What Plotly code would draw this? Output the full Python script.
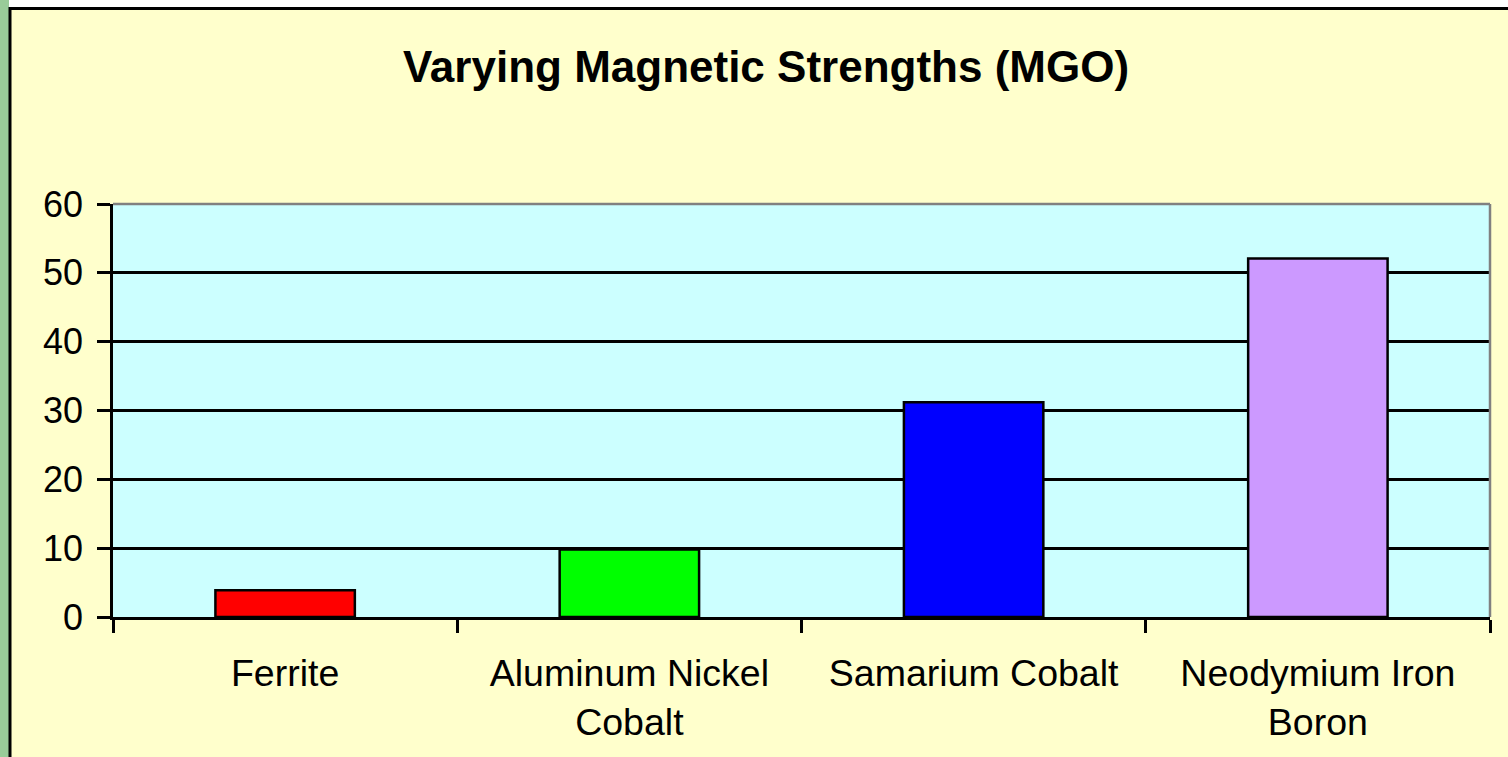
import plotly.graph_objects as go

# ---- data ----
categories = ["Ferrite", "Aluminum Nickel<br>Cobalt", "Samarium Cobalt", "Neodymium Iron<br>Boron"]
strengths = [3.9, 9.8, 31.2, 52.1]
bar_colors = ["#FF0000", "#00FF00", "#0000FF", "#CC99FF"]
y_ticks = [0, 10, 20, 30, 40, 50, 60]
title_text = "Varying Magnetic Strengths (MGO)"

W, H = 1508, 757
L, R, T, B = 113, 18, 204, 140
FONT = "Liberation Sans, Arial, sans-serif"

fig = go.Figure(
    go.Bar(
        x=categories,
        y=strengths,
        marker=dict(color=bar_colors, line=dict(color="black", width=2.5)),
        width=0.405,
    )
)

pw = W - L - R
ph = H - T - B
def px_x(p):
    return (p - L) / pw
def px_y(p):
    return (H - B - p) / ph

shapes = [
    # green strip at left edge
    dict(type="rect", xref="paper", yref="paper", x0=px_x(0), x1=px_x(9), y0=px_y(H), y1=px_y(0),
         fillcolor="#99CC99", line=dict(width=0), layer="below"),
    # white strip at top
    dict(type="rect", xref="paper", yref="paper", x0=px_x(9), x1=px_x(W), y0=px_y(7), y1=px_y(0),
         fillcolor="white", line=dict(width=0), layer="below"),
    # black outer border (top & left)
    dict(type="line", xref="paper", yref="paper", x0=px_x(9), x1=px_x(W), y0=px_y(8.5), y1=px_y(8.5),
         line=dict(color="black", width=3)),
    dict(type="line", xref="paper", yref="paper", x0=px_x(10), x1=px_x(10), y0=px_y(7), y1=px_y(H),
         line=dict(color="black", width=3)),
    # gray plot border top and right
    dict(type="line", xref="paper", yref="paper", x0=0, x1=1, y0=1, y1=1,
         line=dict(color="#808080", width=2.5)),
    dict(type="line", xref="paper", yref="paper", x0=1, x1=1, y0=0, y1=1,
         line=dict(color="#808080", width=2.5)),
]

fig.update_layout(
    width=W, height=H,
    margin=dict(l=L, r=R, t=T, b=B, pad=0),
    paper_bgcolor="#FFFFCC",
    plot_bgcolor="#CCFFFF",
    showlegend=False,
    font=dict(family=FONT, color="black"),
    title=dict(text="<b>" + title_text + "</b>", x=766 / W, xref="container",
               xanchor="center", y=1 - 67 / H, yref="container", yanchor="middle",
               font=dict(size=44, family=FONT, color="black")),
    shapes=shapes,
)

fig.update_xaxes(
    showline=True, linecolor="black", linewidth=2.5,
    ticks="outside", tickson="boundaries", ticklen=13, tickwidth=2.5, tickcolor="black",
    tickfont=dict(size=37.5, family=FONT, color="black"),
    ticklabelstandoff=21,
    showgrid=False, zeroline=False,
)
fig.update_yaxes(
    range=[0, 60], tickvals=y_ticks,
    showline=True, linecolor="black", linewidth=2.5,
    ticks="outside", ticklen=13, tickwidth=2.5, tickcolor="black",
    tickfont=dict(size=36, family=FONT, color="black"),
    ticklabelstandoff=7,
    showgrid=True, gridcolor="black", gridwidth=2.5,
    zeroline=False,
)

fig.write_html(
    "out.html",
    config={"displayModeBar": False},
    post_script="document.body.style.margin='0';document.body.style.overflow='hidden';",
)
